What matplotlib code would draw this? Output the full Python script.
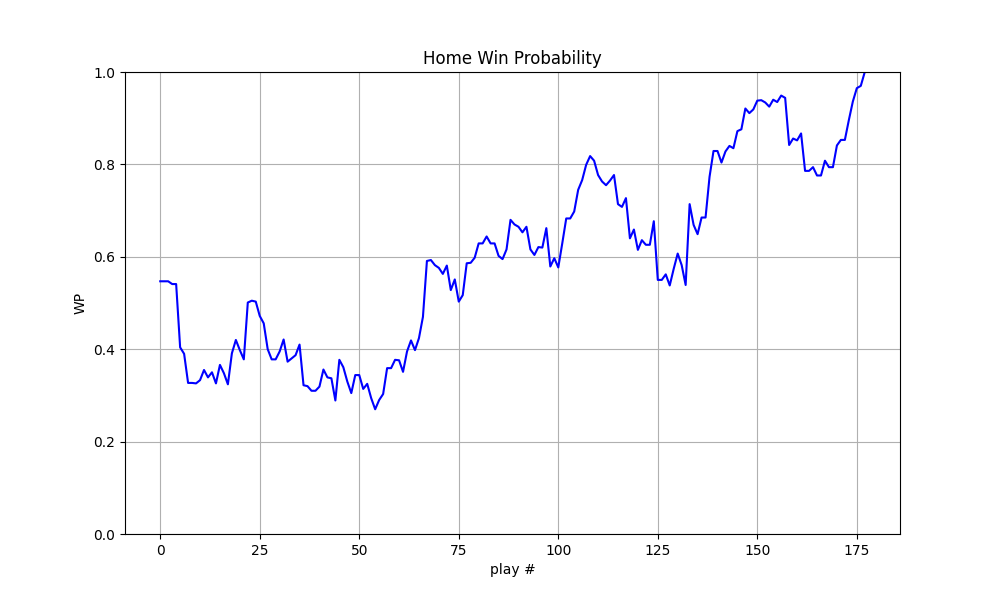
import matplotlib
matplotlib.use("Agg")
import matplotlib.pyplot as plt

wp = [
    0.547, 0.547, 0.547, 0.541, 0.541, 0.404, 0.390, 0.327, 0.327, 0.326,
    0.333, 0.355, 0.339, 0.350, 0.326, 0.366, 0.348, 0.324, 0.391, 0.420,
    0.398, 0.378, 0.501, 0.505, 0.503, 0.472, 0.456, 0.400, 0.378, 0.378,
    0.395, 0.421, 0.373, 0.380, 0.387, 0.410, 0.322, 0.320, 0.310, 0.310,
    0.319, 0.356, 0.339, 0.337, 0.289, 0.377, 0.361, 0.330, 0.305, 0.344,
    0.344, 0.314, 0.325, 0.294, 0.270, 0.290, 0.303, 0.359, 0.359, 0.377,
    0.376, 0.351, 0.395, 0.419, 0.398, 0.424, 0.470, 0.591, 0.593, 0.582,
    0.576, 0.563, 0.581, 0.528, 0.551, 0.503, 0.517, 0.586, 0.587, 0.598,
    0.629, 0.629, 0.644, 0.629, 0.629, 0.602, 0.595, 0.616, 0.680, 0.670,
    0.665, 0.653, 0.665, 0.616, 0.604, 0.621, 0.620, 0.662, 0.579, 0.597,
    0.577, 0.629, 0.683, 0.683, 0.698, 0.745, 0.766, 0.799, 0.818, 0.808,
    0.777, 0.763, 0.755, 0.765, 0.777, 0.714, 0.708, 0.727, 0.640, 0.659,
    0.615, 0.636, 0.626, 0.626, 0.677, 0.550, 0.550, 0.562, 0.538, 0.574,
    0.607, 0.582, 0.539, 0.714, 0.669, 0.649, 0.685, 0.685, 0.773, 0.829,
    0.829, 0.804, 0.828, 0.840, 0.835, 0.872, 0.876, 0.921, 0.911, 0.919,
    0.938, 0.939, 0.934, 0.925, 0.940, 0.935, 0.949, 0.944, 0.842, 0.856,
    0.852, 0.867, 0.786, 0.786, 0.794, 0.776, 0.776, 0.808, 0.794, 0.794,
    0.841, 0.853, 0.853, 0.896, 0.936, 0.965, 0.970, 1.000,
]
plays = list(range(len(wp)))

fig, ax = plt.subplots(figsize=(10, 6), dpi=100)
ax.plot(plays, wp, color="blue")
ax.set_ylim(0, 1)
ax.set_title("Home Win Probability")
ax.set_xlabel("play #")
ax.set_ylabel("WP")
ax.grid(True)
fig.savefig("out.png")
